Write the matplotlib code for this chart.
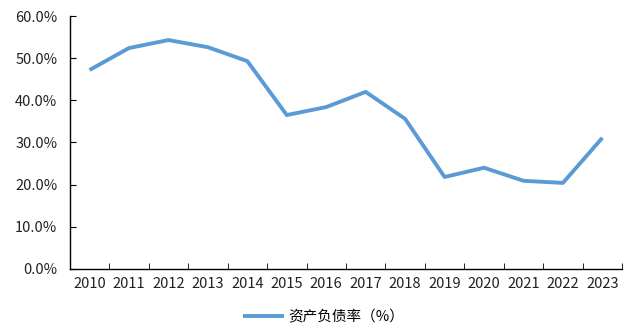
import matplotlib

matplotlib.use("Agg")
import matplotlib.pyplot as plt  # noqa: E402
from matplotlib.ticker import FixedLocator, FuncFormatter  # noqa: E402

plt.rcParams["font.family"] = ["Noto Sans CJK SC", "DejaVu Sans"]

years = ["2010", "2011", "2012", "2013", "2014", "2015", "2016",
         "2017", "2018", "2019", "2020", "2021", "2022", "2023"]
debt_ratio = [47.2, 52.4, 54.3, 52.6, 49.3, 36.5, 38.4,
              42.0, 35.6, 21.8, 24.0, 20.9, 20.4, 31.1]

fig = plt.figure(figsize=(6.29, 3.34), dpi=100)
ax = fig.add_axes([0.111, 0.195, 0.878, 0.757])

x = list(range(len(years)))
ax.plot(x, debt_ratio, color="#5B9BD5", lw=2.8, solid_capstyle="butt",
        label="资产负债率（%）")

ax.set_xlim(-0.5, len(years) - 0.5)
ax.set_ylim(0, 60)
ax.set_yticks(range(0, 61, 10))
ax.yaxis.set_major_formatter(FuncFormatter(lambda v, _: f"{v:.1f}%"))

# category labels centred, tick marks on the boundaries
ax.set_xticks(x)
ax.set_xticklabels(years)
ax.tick_params(axis="x", which="major", length=0, pad=6)
ax.xaxis.set_minor_locator(FixedLocator([i + 0.5 for i in range(-1, len(years))]))
ax.tick_params(axis="x", which="minor", direction="in", length=4, color="black")
ax.tick_params(axis="y", direction="in", length=4, pad=9)
ax.tick_params(labelsize=10.5, labelcolor="#222222")

for side in ("top", "right"):
    ax.spines[side].set_visible(False)
for side in ("left", "bottom"):
    ax.spines[side].set_color("black")
    ax.spines[side].set_linewidth(1.0)

fig.legend(loc="lower center", bbox_to_anchor=(0.515, -0.01), frameon=False,
           fontsize=10.5, handlelength=2.8, handletextpad=0.3)

fig.savefig("out.png", dpi=100)
plt.close(fig)
